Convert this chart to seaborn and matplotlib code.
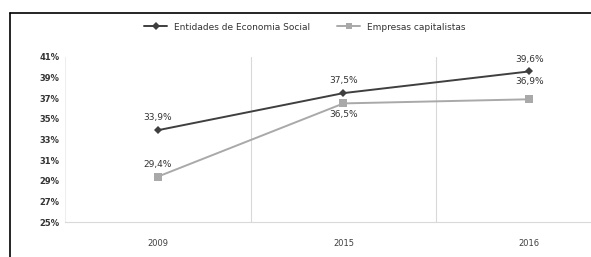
import pandas as pd
import matplotlib
matplotlib.use('Agg')
import matplotlib.pyplot as plt
import seaborn as sns
from matplotlib.lines import Line2D

# Dados
anos = ['2009', '2015', '2016']
economia_social = [33.9, 37.5, 39.6]
empresas_capitalistas = [29.4, 36.5, 36.9]
y_ticks = [25, 27, 29, 31, 33, 35, 37, 39, 41]

df = pd.DataFrame({
    'ano': anos * 2,
    'pos': [0, 1, 2] * 2,
    'valor': economia_social + empresas_capitalistas,
    'serie': ['Entidades de Economia Social'] * 3 + ['Empresas capitalistas'] * 3,
})

sns.set_style('white')
plt.rcParams['font.family'] = ['DejaVu Sans']

fig = plt.figure(figsize=(5.91, 2.57), dpi=100)
ax = fig.add_axes([65 / 591, 1 - 222 / 257, (622 - 65) / 591, (222 - 57) / 257])

cores = {'Entidades de Economia Social': '#3f3f3f', 'Empresas capitalistas': '#a9a9a9'}
marcadores = {'Entidades de Economia Social': 'D', 'Empresas capitalistas': 's'}
sns.lineplot(data=df, x='pos', y='valor', hue='serie', style='serie',
             palette=cores, markers=marcadores, dashes=False, ax=ax,
             linewidth=1.4, legend=False, markeredgewidth=0)
for linha, ms in zip(ax.lines, [4, 6]):
    linha.set_markersize(ms)

ax.set_xlim(-0.5, 2.5)
ax.set_ylim(25, 41)
ax.set_yticks(y_ticks)
ax.set_yticklabels([f'{t}%' for t in y_ticks], fontsize=6, color='#333333', fontweight='bold')
ax.set_xticks([0, 1, 2])
ax.set_xticklabels(anos, fontsize=6, color='#404040')
ax.tick_params(length=0, pad=12)
ax.tick_params(axis='y', pad=4)
ax.set_xlabel('')
ax.set_ylabel('')

for gx in [0.5, 1.5, 2.5]:
    ax.axvline(gx, color='#d9d9d9', lw=0.8, zorder=0)

for s in ['top', 'right']:
    ax.spines[s].set_visible(False)
ax.spines['bottom'].set_color('#d9d9d9')
ax.spines['left'].set_color('#eeeeee')

# Rótulos de dados
def fmt(v):
    return f'{v:.1f}%'.replace('.', ',')

for i, v in enumerate(economia_social):
    ax.annotate(fmt(v), (i, v), xytext=(0, 7), textcoords='offset points',
                ha='center', fontsize=6.5, color='#333333')
offs = [(0, 7), (0, -10), (0, 11)]
for i, v in enumerate(empresas_capitalistas):
    ax.annotate(fmt(v), (i, v), xytext=offs[i], textcoords='offset points',
                ha='center', fontsize=6.5, color='#333333')

handles = [Line2D([], [], color=cores[k], marker=marcadores[k], markersize=4 if k.startswith('Ent') else 5,
                  lw=1.4, markeredgewidth=0, label=k) for k in cores]
fig.legend(handles=handles, loc='center', bbox_to_anchor=(305 / 591, 1 - 27 / 257),
           ncol=2, frameon=False, fontsize=6.5, handlelength=2.5, columnspacing=3,
           labelcolor='#333333')

# Moldura
fig.add_artist(Line2D([10 / 591, 10 / 591], [0, 1 - 13 / 257], color='black', lw=1.2))
fig.add_artist(Line2D([10 / 591, 1], [1 - 13 / 257, 1 - 13 / 257], color='black', lw=1.2))

fig.savefig('out.png', dpi=100)
